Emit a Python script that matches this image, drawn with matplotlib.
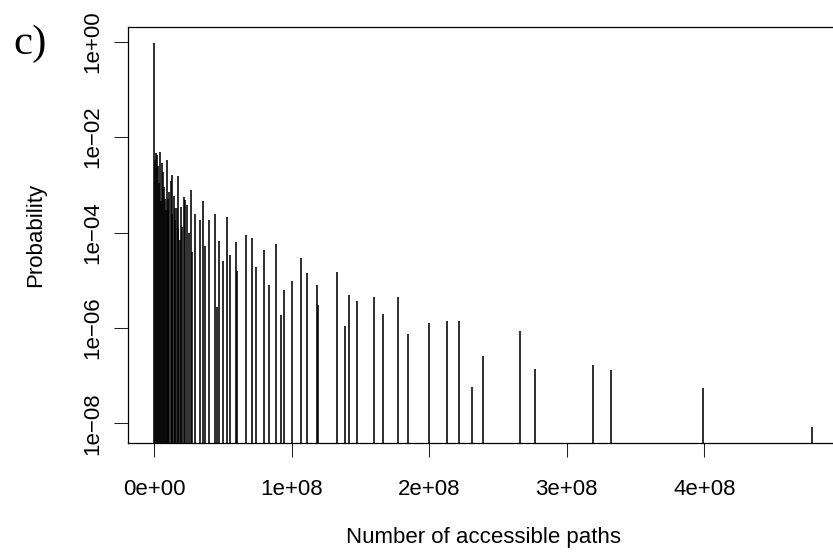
import numpy as np
import matplotlib
matplotlib.use("Agg")
import matplotlib.pyplot as plt

# number of accessible paths (in millions) and probability
paths_mil = [0.0, 0.51, 1.24, 2.18, 2.9, 3.42, 4.15, 4.87, 5.82, 6.55,
             7.27, 8.0, 8.51, 9.02, 9.75, 10.3, 10.9, 11.93, 12.5, 13.09,
             14.11, 14.7, 15.27, 16.29, 16.87, 17.45, 18.47, 19.42, 20.36, 21.6,
             22.55, 23.56, 24.9, 26.47, 27.42, 29.38, 33.02, 35.2, 36.87, 39.78,
             44.15, 45.82, 47.05, 49.75, 53.09, 55.27, 59.2, 59.93, 66.47, 70.84,
             73.96, 79.56, 83.2, 88.29, 92.36, 94.55, 99.93, 106.47, 110.84, 118.1,
             119.4, 132.65, 138.47, 141.82, 147.64, 159.56, 166.1, 177.24, 184.29, 199.56,
             212.65, 221.38, 230.84, 239.05, 265.8, 277.0, 318.8, 332.1, 398.8, 478.5]
prob = [0.95, 3.3e-3, 4.6e-3, 4.3e-3, 2.5e-3, 1.1e-3, 4.9e-3, 4.6e-4, 2.8e-3, 1.9e-3,
        9.1e-4, 5.0e-4, 3.0e-4, 3.3e-3, 3.0e-4, 5.0e-4, 7.2e-4, 1.2e-3, 2.5e-4, 1.6e-3,
        5.9e-4, 3.2e-4, 1.8e-4, 3.2e-4, 1.3e-4, 1.5e-3, 6.9e-5, 3.4e-4, 1.3e-4, 5.6e-4,
        4.8e-4, 3.8e-4, 1.0e-4, 7.8e-4, 3.9e-5, 2.5e-4, 1.8e-4, 4.5e-4, 5.2e-5, 1.8e-4,
        2.5e-4, 2.8e-6, 6.8e-5, 2.5e-5, 2.1e-4, 3.4e-5, 6.2e-5, 1.6e-5, 8.9e-5, 7.6e-5,
        1.9e-5, 4.3e-5, 7.9e-6, 5.8e-5, 1.9e-6, 6.2e-6, 9.5e-6, 2.9e-5, 1.4e-5, 7.8e-6,
        3.0e-6, 1.5e-5, 1.1e-6, 4.8e-6, 3.6e-6, 4.5e-6, 2.0e-6, 4.5e-6, 7.4e-7, 1.3e-6,
        1.4e-6, 1.4e-6, 5.8e-8, 2.6e-7, 8.5e-7, 1.4e-7, 1.7e-7, 1.3e-7, 5.4e-8, 8.3e-9]

xticks = [0, 1e8, 2e8, 3e8, 4e8]
xticklabels = ["0e+00", "1e+08", "2e+08", "3e+08", "4e+08"]
yticks = [1e0, 1e-2, 1e-4, 1e-6, 1e-8]
yticklabels = ["1e+00", "1e\u221202", "1e\u221204", "1e\u221206", "1e\u221208"]

x = np.array(paths_mil) * 1e6
p = np.array(prob)

plt.rcParams['font.family'] = ['Liberation Sans', 'DejaVu Sans']

W, H = 833, 557
fig = plt.figure(figsize=(W / 100, H / 100), dpi=100)

# R style 4% padding on both axes (y padding in log space)
xr = x.max() - x.min()
xlo, xhi = x.min() - 0.04 * xr, x.max() + 0.04 * xr
lmin, lmax = np.log10(p.min()), np.log10(p.max())
lr = lmax - lmin
ylo, yhi = 10 ** (lmin - 0.04 * lr), 10 ** (lmax + 0.04 * lr)

left, top, bottom = 128, 27.3, 442.7
right = 838.5
ax = fig.add_axes([left / W, (H - bottom) / H, (right - left) / W, (bottom - top) / H])

ax.vlines(x, ylo, p, colors='black', linewidth=1.15)
ax.set_yscale('log')
ax.set_xlim(xlo, xhi)
ax.set_ylim(ylo, yhi)

ax.set_xticks(xticks)
ax.set_xticklabels(xticklabels)
ax.set_yticks(yticks)
ax.set_yticklabels(yticklabels, rotation=90, va='center')
ax.minorticks_off()
ax.tick_params(axis='both', direction='out', length=10, width=0.75,
               labelsize=16, color='#222222')
ax.tick_params(axis='x', pad=16)
ax.tick_params(axis='y', pad=8)
for s in ax.spines.values():
    s.set_linewidth(0.9)

fig.text(483 / W, 1 - 538 / H, "Number of accessible paths", ha='center', va='center', fontsize=16)
fig.text(36 / W, 1 - 235 / H, "Probability", ha='center', va='center', rotation=90, fontsize=16)
fig.text(30 / W, 1 - 44 / H, "c)", ha='center', va='center', fontsize=31,
         family=['Liberation Serif', 'DejaVu Serif'])

fig.savefig("out.png", dpi=100)
